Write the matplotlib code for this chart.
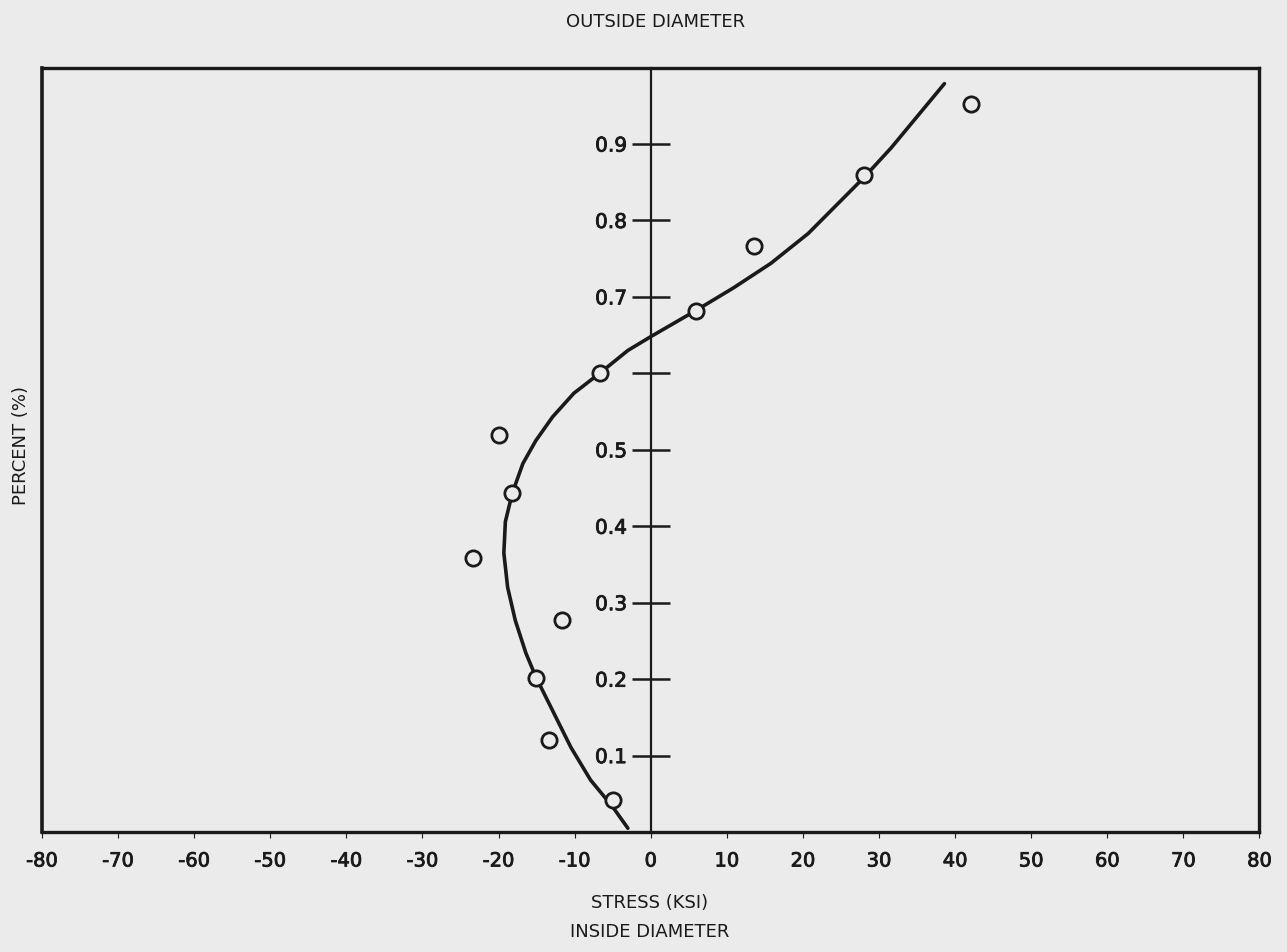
import matplotlib
matplotlib.use("Agg")
import matplotlib.pyplot as plt
import matplotlib.patheffects as pe

# Measured data points (stress in KSI, fraction of wall)
point_stress = [42.1, 28.0, 13.6, 5.9, -6.6, -20.0, -18.2, -23.3, -11.6, -15.1, -13.4, -4.9]
point_percent = [0.953, 0.859, 0.766, 0.682, 0.600, 0.520, 0.443, 0.358, 0.278, 0.201, 0.120, 0.042]

# Fitted curve
curve_stress = [-3.0, -5.0, -7.9, -10.5, -12.9, -15.1, -16.4, -17.8, -18.8, -19.3, -19.1,
                -18.2, -16.8, -15.1, -12.9, -10.1, -6.6, -3.0, 0.0, 5.9, 10.9, 15.8,
                20.7, 24.6, 28.0, 31.6, 35.1, 38.6]
curve_percent = [0.005, 0.033, 0.068, 0.111, 0.159, 0.203, 0.234, 0.277, 0.320, 0.365, 0.406,
                 0.443, 0.482, 0.512, 0.543, 0.574, 0.601, 0.630, 0.648, 0.682, 0.712, 0.744,
                 0.783, 0.822, 0.856, 0.895, 0.937, 0.979]

x_ticks = [-80, -70, -60, -50, -40, -30, -20, -10, 0, 10, 20, 30, 40, 50, 60, 70, 80]
y_ticks = [0.1, 0.2, 0.3, 0.4, 0.5, 0.6, 0.7, 0.8, 0.9]
y_tick_labels = ["0.1", "0.2", "0.3", "0.4", "0.5", "", "0.7", "0.8", "0.9"]

plt.rcParams['font.family'] = ['DejaVu Sans']
bg = '#ebebeb'
fig = plt.figure(figsize=(12.87, 9.52), dpi=100, facecolor=bg)
ax = fig.add_axes([0.0326, 0.126, 0.946, 0.803], facecolor=bg)

ax.set_xlim(-80, 80)
ax.set_ylim(0, 1.0)

ink = '#1a1a1a'
ax.plot(curve_stress, curve_percent, color=ink, lw=2.6, solid_capstyle='round',
        solid_joinstyle='round', zorder=3)
ax.plot(point_stress, point_percent, linestyle='none', marker='o', markersize=11,
        markerfacecolor=bg, markeredgecolor=ink, markeredgewidth=2.0, zorder=4)

# Spines: left spine moved to x = 0, frame completed with other spines
for s in ['top', 'right', 'bottom']:
    ax.spines[s].set_linewidth(2.4)
    ax.spines[s].set_color(ink)
ax.spines['left'].set_position(('data', 0))
ax.spines['left'].set_linewidth(1.6)
ax.spines['left'].set_color(ink)
ax.axvline(-80, color=ink, lw=2.6, clip_on=False, zorder=5)

stroke = [pe.withStroke(linewidth=0.6, foreground=ink)]
ax.set_yticks(y_ticks)
ax.set_yticklabels(y_tick_labels, fontsize=14.5)
for t in ax.get_yticklabels():
    t.set_path_effects(stroke)
ax.tick_params(axis='y', direction='inout', length=28, width=1.8, pad=3, colors=ink)

ax.set_xticks(x_ticks)
ax.set_xticklabels([str(v) for v in x_ticks], fontsize=14)
for t in ax.get_xticklabels():
    t.set_path_effects(stroke)
ax.tick_params(axis='x', direction='out', length=4, width=0.8, pad=10, colors=ink)

fig.text(0.509, 0.977, "OUTSIDE DIAMETER", ha='center', va='center', fontsize=13, color=ink)
fig.text(0.505, 0.051, "STRESS (KSI)", ha='center', va='center', fontsize=13, color=ink)
fig.text(0.505, 0.021, "INSIDE DIAMETER", ha='center', va='center', fontsize=13, color=ink)
fig.text(0.016, 0.532, "PERCENT (%)", ha='center', va='center', rotation=90, fontsize=13, color=ink)

fig.savefig("out.png", dpi=100, facecolor=bg)
